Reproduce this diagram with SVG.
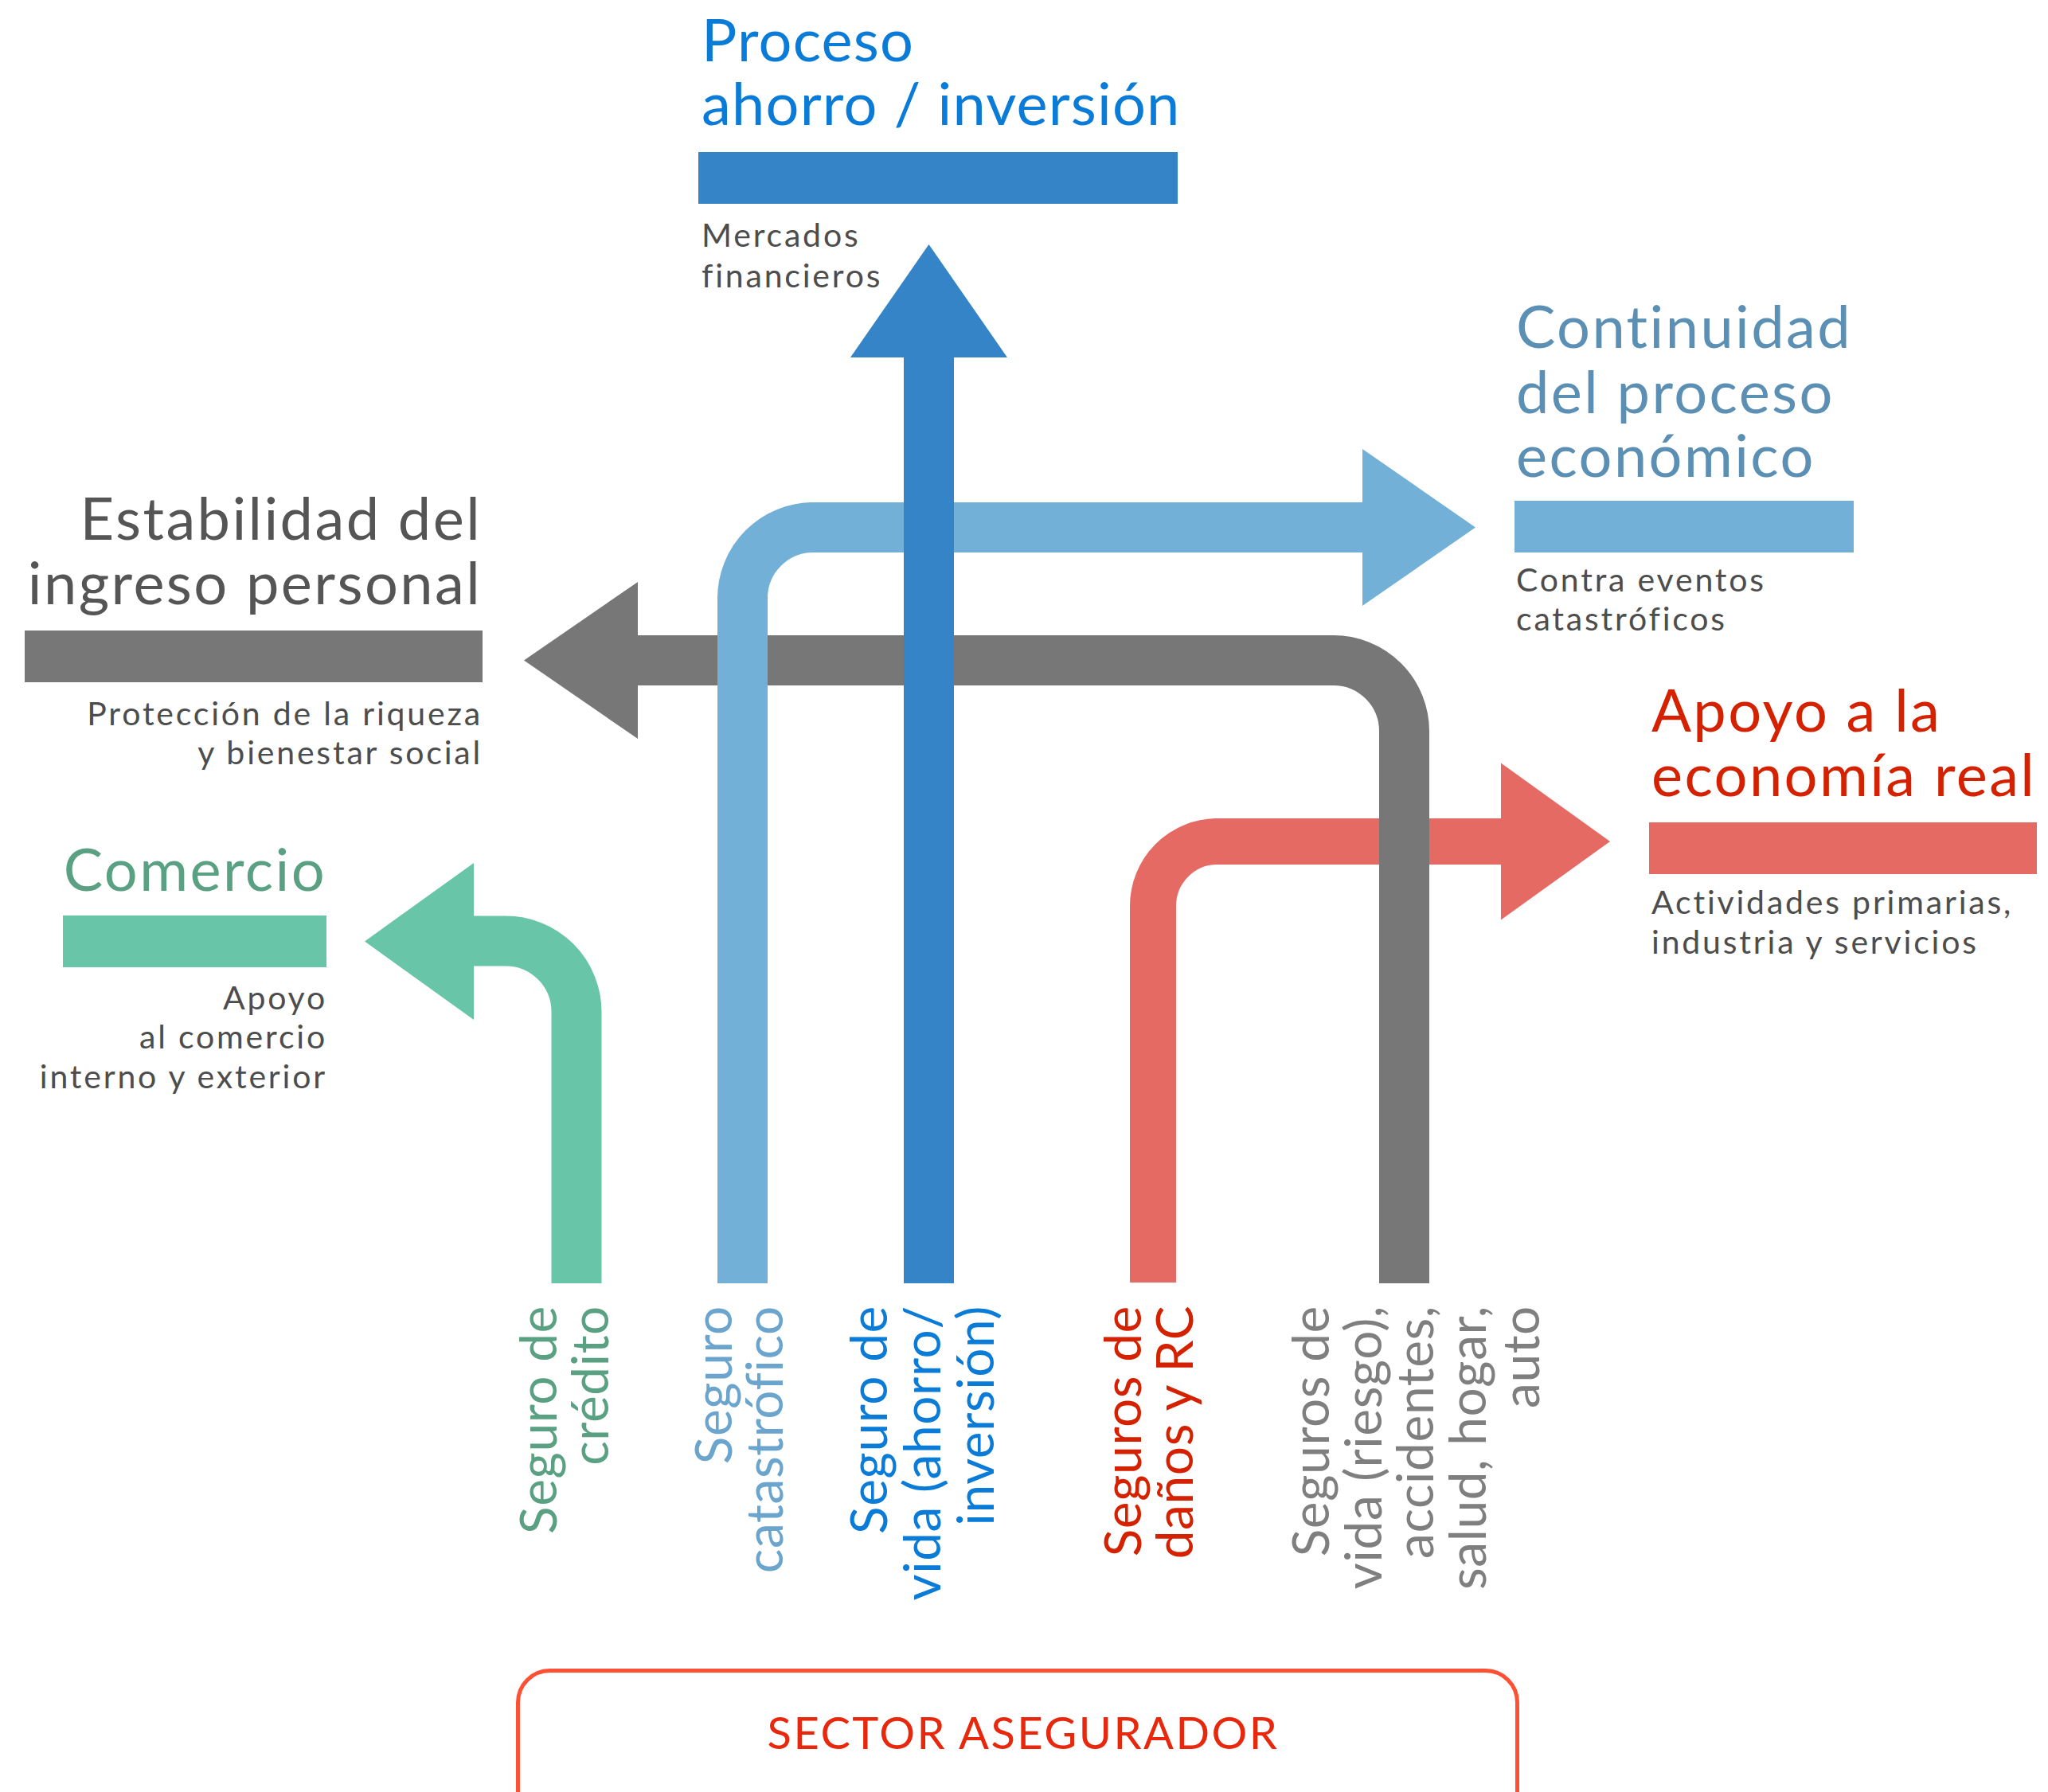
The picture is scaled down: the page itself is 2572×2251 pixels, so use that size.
<svg xmlns="http://www.w3.org/2000/svg" width="2572" height="2251" viewBox="0 0 2572 2251">
<style>
text{font-family:Lato,"Noto Sans","Liberation Sans",sans-serif}
.ttl{font-size:74px;letter-spacing:2.4px}
.sub{font-size:41px;fill:#4d4d4d;letter-spacing:2.8px}
.lbl{font-size:64px;letter-spacing:0.6px}
.shaft{fill:none}
</style>
<rect width="2572" height="2251" fill="#fff"/>
<g id="connectors">
 <g id="arrow-danos" fill="#E56A64">
  <path class="shaft" d="M1448,1611 V1138 A81,81 0 0 1 1529,1057 H1887" stroke="#E56A64" stroke-width="58"/>
  <polygon points="1885,958.5 2022,1057 1885,1155.5"/>
 </g>
 <g id="arrow-vida-riesgo" fill="#777777">
  <path class="shaft" d="M1763.5,1612 V918.5 A89,89 0 0 0 1674.5,829.5 H799" stroke="#777777" stroke-width="63"/>
  <polygon points="801,731 658,829.5 801,928"/>
 </g>
 <g id="arrow-catastrofico" fill="#72B0D7">
  <path class="shaft" d="M932.5,1612 V751.5 A89,89 0 0 1 1021.5,662.5 H1713" stroke="#72B0D7" stroke-width="63"/>
  <polygon points="1711,564 1853,662.5 1711,761"/>
 </g>
 <g id="arrow-vida-ahorro" fill="#3584C8">
  <path class="shaft" d="M1166.5,1612 V447" stroke="#3584C8" stroke-width="63"/>
  <polygon points="1068,449 1166.5,307 1265,449"/>
 </g>
 <g id="arrow-credito" fill="#69C5A8">
  <path class="shaft" d="M724,1612 V1271 A89,89 0 0 0 635,1182 H593" stroke="#69C5A8" stroke-width="63"/>
  <polygon points="595,1084 458,1182.5 595,1281"/>
 </g>
</g>
<g id="node-proceso">
 <text class="ttl" fill="#0A7BD7" style="letter-spacing:1.2px"><tspan x="881" y="77">Proceso</tspan><tspan x="881" y="157">ahorro / inversión</tspan></text>
 <rect x="877" y="191" width="602" height="65" fill="#3584C8"/>
 <text class="sub"><tspan x="881" y="310">Mercados</tspan><tspan x="881" y="361">financieros</tspan></text>
</g>
<g id="node-estabilidad">
 <text class="ttl" fill="#555555" text-anchor="end"><tspan x="605" y="678">Estabilidad del</tspan><tspan x="605" y="759">ingreso personal</tspan></text>
 <rect x="31" y="792" width="575" height="65" fill="#777777"/>
 <text class="sub" text-anchor="end"><tspan x="606" y="911">Protección de la riqueza</tspan><tspan x="606" y="960">y bienestar social</tspan></text>
</g>
<g id="node-continuidad">
 <text class="ttl" fill="#5B8FB4"><tspan x="1904" y="437">Continuidad</tspan><tspan x="1904" y="519">del proceso</tspan><tspan x="1904" y="599">económico</tspan></text>
 <rect x="1902" y="629" width="426" height="65" fill="#72B0D7"/>
 <text class="sub"><tspan x="1904" y="743">Contra eventos</tspan><tspan x="1904" y="792">catastróficos</tspan></text>
</g>
<g id="node-apoyo">
 <text class="ttl" fill="#D42100"><tspan x="2074" y="919">Apoyo a la</tspan><tspan x="2074" y="1000">economía real</tspan></text>
 <rect x="2071" y="1033" width="487" height="65" fill="#E56A64"/>
 <text class="sub"><tspan x="2074" y="1148">Actividades primarias,</tspan><tspan x="2074" y="1198">industria y servicios</tspan></text>
</g>
<g id="node-comercio">
 <text class="ttl" fill="#5AA082" text-anchor="end"><tspan x="410" y="1119">Comercio</tspan></text>
 <rect x="79" y="1150" width="331" height="65" fill="#69C5A8"/>
 <text class="sub" text-anchor="end"><tspan x="411" y="1268">Apoyo</tspan><tspan x="411" y="1317">al comercio</tspan><tspan x="411" y="1367">interno y exterior</tspan></text>
</g>
<g id="label-credito">
 <text class="lbl" fill="#5AA082" transform="rotate(-90)" text-anchor="end"><tspan x="-1640" y="699">Seguro de</tspan><tspan x="-1640" y="764">crédito</tspan></text>
</g>
<g id="label-catastrofico">
 <text class="lbl" fill="#6BA4CC" transform="rotate(-90)" text-anchor="end"><tspan x="-1640" y="919">Seguro</tspan><tspan x="-1640" y="983">catastrófico</tspan></text>
</g>
<g id="label-vida-ahorro">
 <text class="lbl" fill="#0A7BD7" transform="rotate(-90)" text-anchor="end"><tspan x="-1640" y="1114">Seguro de</tspan><tspan x="-1640" y="1181">vida (ahorro/</tspan><tspan x="-1640" y="1248">inversión)</tspan></text>
</g>
<g id="label-danos">
 <text class="lbl" fill="#D42100" transform="rotate(-90)" text-anchor="end"><tspan x="-1640" y="1433">Seguros de</tspan><tspan x="-1640" y="1498">daños y RC</tspan></text>
</g>
<g id="label-vida-riesgo">
 <text class="lbl" fill="#7F7F7F" transform="rotate(-90)" text-anchor="end"><tspan x="-1640" y="1669">Seguros de</tspan><tspan x="-1640" y="1735">vida (riesgo),</tspan><tspan x="-1640" y="1800">accidentes,</tspan><tspan x="-1640" y="1866">salud, hogar,</tspan><tspan x="-1640" y="1933">auto</tspan></text>
</g>
<g id="node-sector">
 <rect x="650.5" y="2098.5" width="1255" height="220" rx="40" fill="none" stroke="#FF5033" stroke-width="5"/>
 <text x="1285" y="2197" font-size="56" fill="#E8280C" text-anchor="middle" letter-spacing="2.5">SECTOR ASEGURADOR</text>
</g>
</svg>
